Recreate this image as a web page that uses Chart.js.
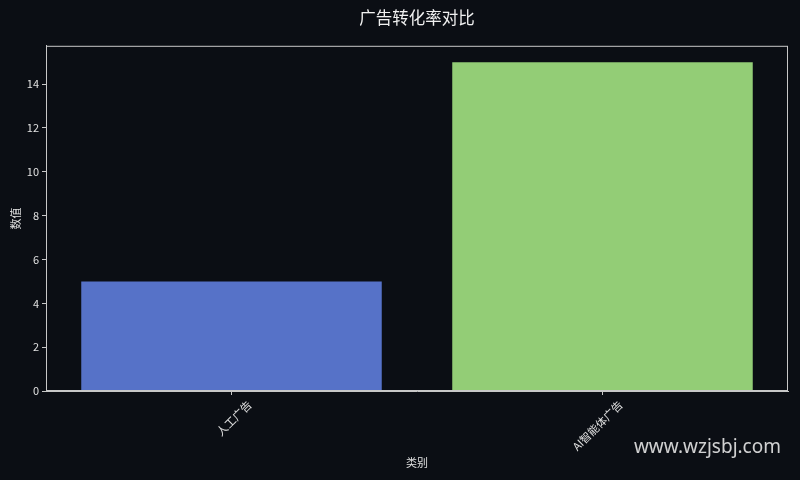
<!DOCTYPE html>
<html>
<head>
<meta charset="utf-8">
<script src="https://cdn.jsdelivr.net/npm/chart.js@4.4.0/dist/chart.umd.min.js"></script>
<style>
html, body { margin: 0; padding: 0; background: #0b0e14; }
#wrap { width: 800px; height: 480px; }
</style>
</head>
<body>
<div id="wrap"><canvas id="chart"></canvas></div>
<script>
const categories = ['人工广告', 'AI智能体广告'];
const values = [5, 15];
const bar_colors = ['#5672c8', '#93cd76'];
const y_max = 15.75;
const y_step = 2;

const font_family = '"Noto Sans CJK SC", "Noto Sans", sans-serif';
const text_color = '#e0e0e0';
const line_color = '#c8c8c8';

// box round the plot + the site mark in the corner
const frame_plugin = {
    id: 'frame',
    afterDatasetsDraw(chart) {
        const {ctx, chartArea} = chart;
        ctx.save();
        ctx.strokeStyle = line_color;
        ctx.lineWidth = 1;
        ctx.strokeRect(chartArea.left + 0.5, chartArea.top + 0.5,
            chartArea.right - chartArea.left - 1, chartArea.bottom - chartArea.top - 1);
        ctx.restore();
    },
    afterDraw(chart) {
        const ctx = chart.ctx;
        ctx.save();
        ctx.font = '19px "Noto Sans", sans-serif';
        ctx.fillStyle = 'rgba(230, 230, 230, 0.9)';
        ctx.textAlign = 'right';
        ctx.textBaseline = 'middle';
        ctx.fillText('www.wzjsbj.com', 781, 448);
        ctx.restore();
    }
};

new Chart(document.getElementById('chart'), {
    type: 'bar',
    data: {
        labels: categories,
        datasets: [{
            data: values,
            backgroundColor: bar_colors,
            borderWidth: 0,
            categoryPercentage: 1.0,
            barPercentage: 0.81
        }]
    },
    options: {
        responsive: true,
        maintainAspectRatio: false,
        animation: false,
        layout: {
            padding: { left: 0, right: 12, top: 0, bottom: 0 }
        },
        scales: {
            x: {
                grid: {
                    display: true,
                    offset: false,
                    drawOnChartArea: false,
                    drawTicks: true,
                    tickLength: 4,
                    tickColor: line_color
                },
                border: { display: true, color: line_color },
                ticks: {
                    color: text_color,
                    font: { family: font_family, size: 11 },
                    minRotation: 45,
                    maxRotation: 45,
                    labelOffset: 18,
                    padding: 3
                },
                title: {
                    display: true,
                    text: '类别',
                    color: text_color,
                    font: { family: font_family, size: 11 },
                    padding: { top: 0, bottom: 11 }
                },
                afterFit: (scale) => { scale.height = 89; }
            },
            y: {
                min: 0,
                max: y_max,
                grid: {
                    display: true,
                    drawOnChartArea: false,
                    drawTicks: true,
                    tickLength: 4,
                    tickColor: line_color
                },
                border: { display: true, color: line_color },
                ticks: {
                    stepSize: y_step,
                    color: text_color,
                    font: { family: font_family, size: 11 },
                    padding: 3
                },
                afterBuildTicks: (scale) => {
                    scale.ticks = scale.ticks.filter(t => t.value % y_step === 0);
                },
                title: {
                    display: true,
                    text: '数值',
                    color: text_color,
                    font: { family: font_family, size: 11 },
                    padding: { top: 9, bottom: 0 }
                },
                afterFit: (scale) => { scale.width = 46; }
            }
        },
        plugins: {
            legend: { display: false },
            tooltip: { enabled: false },
            title: {
                display: true,
                fullSize: false,
                text: '广告转化率对比',
                color: '#f0f0f0',
                font: { family: font_family, size: 16.5, weight: 'normal' },
                padding: { top: 8, bottom: 18 }
            }
        }
    },
    plugins: [frame_plugin]
});
</script>
</body>
</html>
